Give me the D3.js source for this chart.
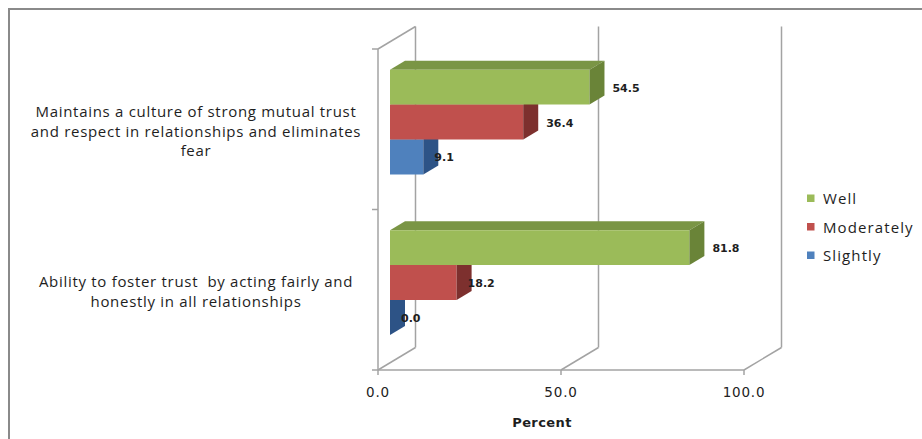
<!DOCTYPE html>
<html>
<head>
<meta charset="utf-8">
<script src="https://cdn.jsdelivr.net/npm/d3@7"></script>
<style>
  html, body { margin: 0; padding: 0; background: #fff; }
  svg { display: block; }
  text { white-space: pre; }
</style>
</head>
<body>
<svg id="chart" width="922" height="439"></svg>
<script>
// ---- data ----
const categories = [
  ["Maintains a culture of strong mutual trust", "and respect in relationships and eliminates", "fear"],
  ["Ability to foster trust  by acting fairly and", "honestly in all relationships"]
];
const series = ["Well", "Moderately", "Slightly"];
const well = [54.5, 81.8];
const moderately = [36.4, 18.2];
const slightly = [9.1, 0.0];
const xTicks = [0, 50, 100];
const xTickLabels = ["0.0", "50.0", "100.0"];
const axisTitle = "Percent";

// ---- styles ----
const colors = {
  Well:       { front: "#9BBB59", top: "#7A9545", side: "#6A8438" },
  Moderately: { front: "#C0504D", top: "#9E3F3C", side: "#7D302E" },
  Slightly:   { front: "#4F81BD", top: "#3D69A0", side: "#2D5386" }
};
const valuesBySeries = { Well: well, Moderately: moderately, Slightly: slightly };

const svg = d3.select("#chart");
const catKeys = categories.map((c, i) => "c" + i);

const x = d3.scaleLinear().domain([0, 100]).range([378, 744]);
const y = d3.scaleBand().domain(catKeys).range([49, 370]);
const inner = d3.scaleBand().domain(series).range([0, y.bandwidth()]).paddingInner(0).paddingOuter(0.8);

const DX = 37.5, DY = -22.5;   // depth vector of the 3-D box
const ZF = 0.32, ZB = 0.72;     // bar front / back depth
const gridColor = "#a3a3a3";

// chart border
svg.append("path")
  .attr("d", "M9,439 V9 H922")
  .attr("fill", "none").attr("stroke", "#8a8a8a").attr("stroke-width", 2);

const walls = svg.append("g").attr("stroke", gridColor).attr("stroke-width", 1.5).attr("fill", "none");
const yTop = y.range()[0], yBot = y.range()[1];
xTicks.forEach(t => {
  walls.append("line")
    .attr("x1", x(t) + DX).attr("x2", x(t) + DX)
    .attr("y1", yTop + DY).attr("y2", yBot + DY);
  walls.append("line")
    .attr("x1", x(t)).attr("y1", yBot)
    .attr("x2", x(t) + DX).attr("y2", yBot + DY);
});
walls.append("line")
  .attr("x1", x(0)).attr("y1", yTop)
  .attr("x2", x(0) + DX).attr("y2", yTop + DY);
walls.append("line").attr("x1", x(0)).attr("x2", x(0)).attr("y1", yTop).attr("y2", yBot);
walls.append("line").attr("x1", x(0)).attr("x2", x(100)).attr("y1", yBot).attr("y2", yBot);
xTicks.forEach(t => {
  walls.append("line").attr("x1", x(t)).attr("x2", x(t)).attr("y1", yBot).attr("y2", yBot + 5);
});
const yTickPos = catKeys.map(k => y(k)).concat([yBot]);
yTickPos.forEach(p => {
  walls.append("line").attr("x1", x(0) - 6).attr("x2", x(0)).attr("y1", p).attr("y2", p);
});

// ---- bars ----
const barsG = svg.append("g");
const drawOrder = series.slice().reverse();
const labels = [];
catKeys.forEach((k, ci) => {
  drawOrder.forEach(s => {
    const v = valuesBySeries[s][ci];
    const y0 = y(k) + inner(s);
    const h = inner.bandwidth();
    const x0 = x(0), x1 = x(v);
    const c = colors[s];
    const P = (px, py, z) => [px + DX * z, py + DY * z];
    const poly = pts => pts.map(p => p.join(",")).join(" ");
    if (x1 > x0) {
      barsG.append("polygon")
        .attr("points", poly([P(x0, y0, ZF), P(x1, y0, ZF), P(x1, y0, ZB), P(x0, y0, ZB)]))
        .attr("fill", c.top);
      barsG.append("polygon")
        .attr("points", poly([P(x0, y0, ZF), P(x1, y0, ZF), P(x1, y0 + h, ZF), P(x0, y0 + h, ZF)]))
        .attr("fill", c.front);
    }
    barsG.append("polygon")
      .attr("points", poly([P(x1, y0, ZF), P(x1, y0, ZB), P(x1, y0 + h, ZB), P(x1, y0 + h, ZF)]))
      .attr("fill", c.side);
    labels.push({ v, x: x1 + DX * ZF + (v > 25 ? 23 : 11), y: y0 + h / 2 + DY * ZF + 1 });
  });
});

// value labels
svg.append("g").selectAll("text").data(labels).join("text")
  .attr("x", d => d.x).attr("y", d => d.y)
  .attr("dominant-baseline", "central")
  .attr("font-family", "DejaVu Sans")
  .attr("font-weight", "bold")
  .attr("font-size", 11)
  .attr("fill", "#1e1e1e")
  .text(d => d.v.toFixed(1));

// category labels
const catG = svg.append("g")
  .attr("font-family", "Open Sans").attr("font-size", 15).attr("fill", "#1e1e1e")
  .attr("letter-spacing", 0.7)
  .attr("text-anchor", "middle");
catKeys.forEach((k, ci) => {
  const lines = categories[ci];
  const cy = y(k) + y.bandwidth() / 2 + 1.5;
  const lh = 19.7;
  lines.forEach((ln, li) => {
    catG.append("text")
      .attr("x", 196)
      .attr("y", cy + (li - (lines.length - 1) / 2) * lh)
      .attr("dominant-baseline", "central")
      .text(ln);
  });
});

// x tick labels
svg.append("g").selectAll("text").data(xTicks).join("text")
  .attr("x", d => x(d)).attr("y", 392)
  .attr("dominant-baseline", "central")
  .attr("text-anchor", "middle")
  .attr("font-family", "DejaVu Sans").attr("font-size", 13.5)
  .attr("letter-spacing", 0.8)
  .attr("fill", "#222")
  .text((d, i) => xTickLabels[i]);

// axis title
svg.append("text")
  .attr("x", 542).attr("y", 422)
  .attr("dominant-baseline", "central")
  .attr("text-anchor", "middle")
  .attr("font-family", "DejaVu Sans").attr("font-weight", "bold").attr("font-size", 13)
  .attr("letter-spacing", 0.4)
  .attr("fill", "#1e1e1e")
  .text(axisTitle);

// legend
const leg = svg.append("g");
series.forEach((s, i) => {
  const cy = 198 + i * 28.5;
  leg.append("rect").attr("x", 807).attr("y", cy - 3.5).attr("width", 7.5).attr("height", 7.5)
    .attr("fill", colors[s].front);
  leg.append("text").attr("x", 823).attr("y", cy)
    .attr("dominant-baseline", "central")
    .attr("font-family", "Open Sans").attr("font-size", 15).attr("fill", "#1e1e1e")
    .attr("letter-spacing", 1.1)
    .text(s);
});
</script>
</body>
</html>
